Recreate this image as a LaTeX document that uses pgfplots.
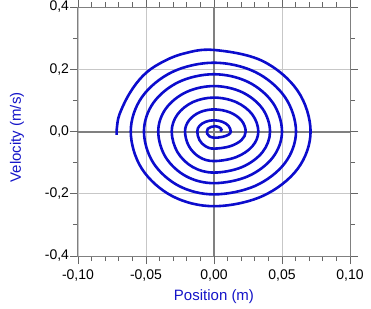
\documentclass[border=0pt]{standalone}
\usepackage{fontspec}
\setmainfont{Liberation Sans}
\usepackage{pgfplots}
\pgfplotsset{compat=1.18}
\definecolor{spiral}{RGB}{12,12,205}
\definecolor{lab}{RGB}{20,20,200}
\begin{document}
\begin{tikzpicture}
\useasboundingbox (-78bp,-53bp) rectangle (293bp,256bp);
\begin{axis}[
  at={(0,0)}, anchor=south west, scale only axis,
  width=272bp, height=249bp,
  xmin=-0.1, xmax=0.1, ymin=-0.4, ymax=0.4,
  xtick={-0.1,-0.05,0,0.05,0.1}, ytick={-0.4,-0.2,0,0.2,0.4},
  minor x tick num=4, minor y tick num=1,
  scaled ticks=false,
  tick align=outside, major tick length=8bp, minor tick length=5bp,
  grid=major, major grid style={color=black!22, line width=0.8bp},
  axis line style={color=black!50, line width=1bp},
  tick style={color=black!60, line width=0.8bp},
  extra x ticks={0}, extra y ticks={0},
  extra x tick labels={}, extra y tick labels={},
  extra tick style={grid=major, major grid style={color=black!50, line width=2bp}},
  xticklabel style={font=\fontsize{14bp}{16bp}\selectfont, yshift=-2.5bp,
    /pgf/number format/.cd, fixed, fixed zerofill, precision=2, use comma, assume math mode=true},
  yticklabel style={font=\fontsize{14bp}{16bp}\selectfont, xshift=2.5bp,
    /pgf/number format/.cd, fixed, fixed zerofill, precision=1, use comma, assume math mode=true},
  xlabel={Position (m)}, ylabel={Velocity (m/s)},
  xlabel style={font=\fontsize{15bp}{17bp}\selectfont, text=lab,
    at={(axis description cs:0.5,0)}, anchor=center, yshift=-41bp},
  ylabel style={font=\fontsize{15bp}{17bp}\selectfont, text=lab,
    at={(axis description cs:0,0.476)}, anchor=center, yshift=61bp},
]
\addplot[spiral, line width=2.6bp, smooth, tension=0.6] coordinates {
(-0.0716,-0.011) (-0.0714,0.012) (-0.0695,0.055)
(-0.0620,0.123) (-0.0520,0.180) (-0.0397,0.219) (-0.0226,0.250) (0,0.262)
(0.0355,0.2269) (0.0615,0.131) (0.071,0)
(0.0615,-0.120) (0.0355,-0.2078) (0,-0.240)
(-0.0306,-0.2078) (-0.0530,-0.120) (-0.0612,0)
(-0.0530,0.1105) (-0.0306,0.1914) (0,0.221)
(0.0302,0.1914) (0.0522,0.1105) (0.0603,0)
(0.0522,-0.101) (0.0302,-0.1749) (0,-0.202)
(-0.0258,-0.1749) (-0.0446,-0.101) (-0.0515,0)
(-0.0446,0.092) (-0.0258,0.1593) (0,0.184)
(0.025,0.1593) (0.0433,0.092) (0.050,0)
(0.0433,-0.083) (0.025,-0.1438) (0,-0.166)
(-0.0205,-0.1438) (-0.0355,-0.083) (-0.0410,0)
(-0.0355,0.073) (-0.0205,0.1264) (0,0.146)
(0.0206,0.1264) (0.0357,0.073) (0.0412,0)
(0.0357,-0.066) (0.0206,-0.1143) (0,-0.132)
(-0.0156,-0.1143) (-0.0269,-0.066) (-0.0311,0)
(-0.0269,0.0545) (-0.0156,0.0944) (0,0.109)
(0.0163,0.0944) (0.0282,0.0545) (0.0326,0)
(0.0282,-0.0475) (0.0163,-0.0823) (0,-0.095)
(-0.0107,-0.0823) (-0.0184,-0.0475) (-0.0213,0)
(-0.0184,0.0355) (-0.0107,0.0615) (0,0.071)
(0.0117,0.0615) (0.0202,0.0355) (0.0233,0)
(0.0202,-0.0275) (0.0117,-0.0476) (0,-0.055)
(-0.0062,-0.0476) (-0.0107,-0.0275) (-0.0123,0)
(-0.0107,0.018) (-0.0062,0.0312) (0,0.036)
(0.0062,0.0312) (0.0107,0.018) (0.0123,0)
(0.0107,-0.010) (0.0062,-0.0173) (0,-0.020)
(-0.0035,-0.015) (-0.0050,-0.007) (-0.0052,0)
(-0.0045,0.009) (-0.002,0.015) (0.001,0.017)
(0.004,0.013) (0.0055,0.006) (0.0045,0.001)
};
\end{axis}
\end{tikzpicture}
\end{document}
